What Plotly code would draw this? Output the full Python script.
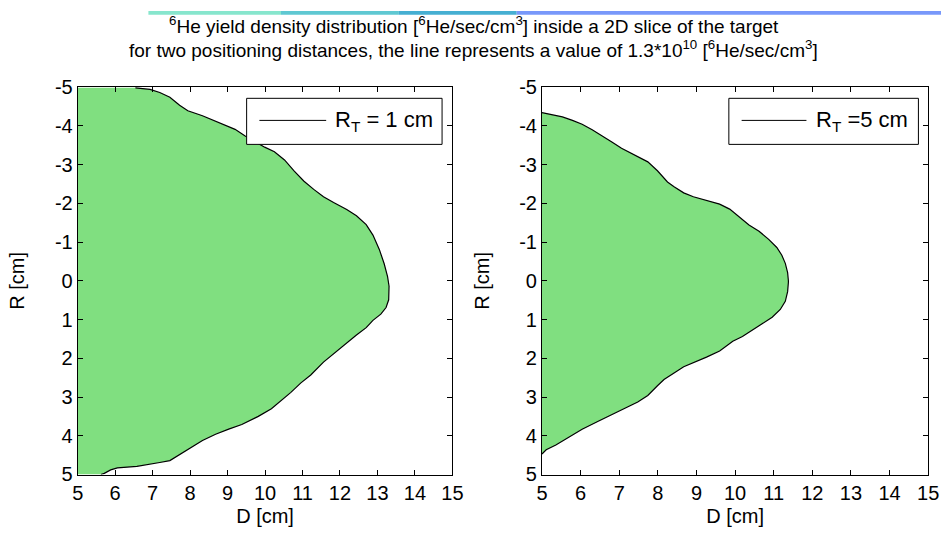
import plotly.graph_objects as go

# Contour of the 1.3e10 6He/sec/cm^3 level, R_T = 1 cm (D [cm], R [cm])
d_rt1 = [6.54, 6.93, 7.19, 7.46, 7.72, 7.94, 8.33, 8.81, 9.20, 9.47, 9.99, 10.25,
         10.52, 10.78, 11.04, 11.30, 11.56, 11.83, 12.18, 12.44, 12.70, 12.88,
         13.05, 13.18, 13.27, 13.31, 13.31, 13.30, 13.23, 13.09, 12.88, 12.70,
         12.44, 12.18, 11.91, 11.56, 11.22, 10.95, 10.69, 10.43, 10.17, 9.82,
         9.38, 9.03, 8.68, 8.33, 7.98, 7.72, 7.46, 7.19, 6.93, 6.58, 6.06, 5.88,
         5.71, 5.62]
r_rt1 = [-4.98, -4.94, -4.86, -4.74, -4.53, -4.39, -4.26, -4.07, -3.91, -3.74,
         -3.45, -3.33, -3.12, -2.83, -2.57, -2.36, -2.17, -2.02, -1.84, -1.68,
         -1.45, -1.18, -0.81, -0.44, -0.11, 0.14, 0.24, 0.49, 0.69, 0.86, 1.02,
         1.21, 1.40, 1.60, 1.81, 2.10, 2.43, 2.64, 2.88, 3.09, 3.30, 3.50, 3.71,
         3.83, 3.96, 4.12, 4.33, 4.50, 4.64, 4.69, 4.74, 4.79, 4.83, 4.88, 4.97,
         5.00]

# Same level, R_T = 5 cm
d_rt5 = [5.00, 5.28, 5.53, 5.79, 6.04, 6.30, 6.55, 6.81, 7.06, 7.31, 7.57, 7.74,
         7.99, 8.25, 8.42, 8.67, 8.92, 9.26, 9.60, 9.86, 10.11, 10.36, 10.62,
         10.87, 11.08, 11.21, 11.30, 11.36, 11.38, 11.38, 11.36, 11.30, 11.17,
         10.96, 10.70, 10.45, 10.19, 9.94, 9.60, 9.26, 8.92, 8.67, 8.42, 8.16,
         7.99, 7.74, 7.48, 7.14, 6.81, 6.47, 6.04, 5.70, 5.36, 5.11, 5.00]
r_rt5 = [-4.34, -4.28, -4.23, -4.14, -4.04, -3.90, -3.75, -3.58, -3.42, -3.29,
         -3.17, -3.07, -2.84, -2.55, -2.43, -2.27, -2.17, -2.08, -1.98, -1.85,
         -1.65, -1.44, -1.28, -1.07, -0.86, -0.66, -0.45, -0.21, 0.00, 0.04,
         0.28, 0.53, 0.74, 0.94, 1.11, 1.27, 1.44, 1.56, 1.81, 1.97, 2.11, 2.22,
         2.38, 2.55, 2.71, 2.96, 3.13, 3.29, 3.46, 3.62, 3.83, 4.03, 4.24, 4.36,
         4.47]

d_min, d_max = 5, 15
r_min, r_max = -5, 5
x_ticks = list(range(5, 16))
y_ticks = list(range(-5, 6))
y_ticklabels = [str(v) for v in y_ticks]  # plain hyphen minus signs

legend_labels = ["R<sub>T</sub> = 1 cm", "R<sub>T</sub> =5 cm"]

FILL = "rgb(128,223,128)"
FONT = "Liberation Sans, Arial, sans-serif"
FS_TICK = 20
FS_TITLE = 20

fig = go.Figure()

for i, (d, r) in enumerate([(d_rt1, r_rt1), (d_rt5, r_rt5)]):
    xa = "x" if i == 0 else "x2"
    ya = "y" if i == 0 else "y2"
    # filled region: level curve closed along the D = 5 cm boundary
    fig.add_trace(go.Scatter(
        x=[d_min] + d + [d_min], y=[r[0]] + r + [r[-1]],
        mode="lines", fill="toself", fillcolor=FILL,
        line=dict(width=0, color=FILL), hoverinfo="skip",
        xaxis=xa, yaxis=ya, showlegend=False))
    # contour line
    fig.add_trace(go.Scatter(
        x=d, y=r, mode="lines", line=dict(color="black", width=1.2),
        xaxis=xa, yaxis=ya, showlegend=False))

W, H = 952, 545
dom_x1 = [73 / W, 454.5 / W]
dom_x2 = [545.7 / W, 939 / W]
dom_y = [1 - 483 / H, 1 - 79.3 / H]

axis_common = dict(
    showgrid=False, zeroline=False, showline=True, linecolor="black",
    linewidth=1, mirror="ticks", ticks="inside", ticklen=5, tickcolor="black",
    tickfont=dict(family=FONT, size=FS_TICK, color="black"),
)
xtitle = dict(text="D [cm]", standoff=6, font=dict(family=FONT, size=FS_TITLE))
ytitle = dict(text="R [cm]", standoff=24, font=dict(family=FONT, size=FS_TITLE))

fig.update_layout(
    width=W, height=H, margin=dict(l=0, r=0, t=0, b=0),
    paper_bgcolor="white", plot_bgcolor="white",
    font=dict(family=FONT, size=18, color="black"),
    xaxis=dict(domain=dom_x1, range=[d_min, d_max], tickvals=x_ticks,
               anchor="y", title=xtitle, **axis_common),
    yaxis=dict(domain=dom_y, range=[r_max, r_min], tickvals=y_ticks,
               ticktext=y_ticklabels, anchor="x", title=ytitle, **axis_common),
    xaxis2=dict(domain=dom_x2, range=[d_min, d_max], tickvals=x_ticks,
                anchor="y2", title=xtitle, **axis_common),
    yaxis2=dict(domain=dom_y, range=[r_max, r_min], tickvals=y_ticks,
                ticktext=y_ticklabels, anchor="x2", title=ytitle, **axis_common),
    showlegend=False,
)

shapes = []
# decorative gradient band along the top edge
band = [(145, 280, "rgb(135,230,205)"), (280, 400, "rgb(95,200,210)"),
        (400, 520, "rgb(70,175,210)"), (520, 952, "rgb(120,152,250)")]
for x0, x1, c in band:
    shapes.append(dict(type="rect", xref="paper", yref="paper",
                       x0=x0 / W, x1=x1 / W, y0=1 - 4 / H, y1=1,
                       fillcolor=c, line=dict(width=0), layer="above"))

# legend boxes: (box x0, x1, line x0, x1, text x)
legend_boxes = [(245, 444, 258, 326, 333), (736, 929, 749, 815, 823)]
annotations = []
for (bx0, bx1, lx0, lx1, tx), lab in zip(legend_boxes, legend_labels):
    shapes.append(dict(type="rect", xref="paper", yref="paper",
                       x0=bx0 / W, x1=bx1 / W, y0=1 - 139 / H, y1=1 - 91 / H,
                       fillcolor="white", line=dict(color="black", width=1)))
    shapes.append(dict(type="line", xref="paper", yref="paper",
                       x0=lx0 / W, x1=lx1 / W, y0=1 - 114 / H, y1=1 - 114 / H,
                       line=dict(color="black", width=1)))
    annotations.append(dict(xref="paper", yref="paper", x=tx / W, y=1 - 115 / H,
                            xanchor="left", yanchor="middle", showarrow=False,
                            text=lab, font=dict(family=FONT, size=22)))

annotations.append(dict(
    xref="paper", yref="paper", x=476 / W, y=1 - 15 / H, xanchor="center",
    yanchor="middle", showarrow=False,
    text="<sup>6</sup>He yield density distribution [<sup>6</sup>He/sec/cm<sup>3</sup>] inside a 2D slice of the target",
    font=dict(family=FONT, size=19)))
annotations.append(dict(
    xref="paper", yref="paper", x=476 / W, y=1 - 40 / H, xanchor="center",
    yanchor="middle", showarrow=False,
    text="for two positioning distances, the line represents a value of 1.3*10<sup>10</sup> [<sup>6</sup>He/sec/cm<sup>3</sup>]",
    font=dict(family=FONT, size=19)))

fig.update_layout(shapes=shapes, annotations=annotations)

fig.write_html("out.html")
